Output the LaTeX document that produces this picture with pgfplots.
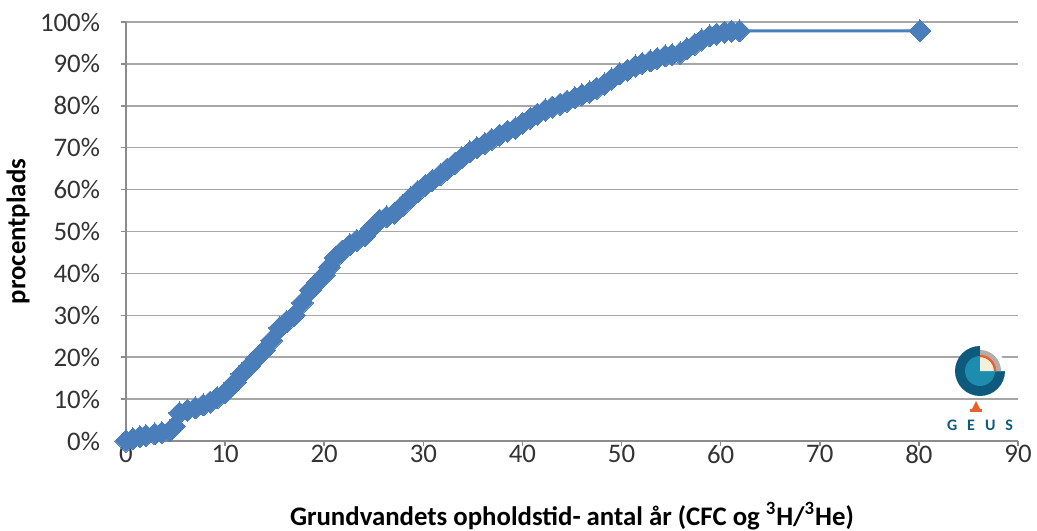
\documentclass[border=0pt]{standalone}
\usepackage{fontspec}
\setmainfont{Carlito}
\usepackage{pgfplots}
\pgfplotsset{compat=1.18}
\definecolor{serie}{HTML}{4A7EBB}
\definecolor{gitter}{HTML}{A6A6A6}
\definecolor{aksel}{HTML}{8C8C8C}
\definecolor{geusblaa}{HTML}{0E5A7C}
\definecolor{geusteal}{HTML}{1C8DAE}
\definecolor{geusgraa}{HTML}{B4ACA8}
\definecolor{geusorange}{HTML}{E8602C}
\definecolor{geuscreme}{HTML}{F4EFD8}
\begin{document}
\begin{tikzpicture}[x=0.5pt,y=0.5pt]
\useasboundingbox (0,0) rectangle (1037,530);
\begin{axis}[
  at={(63pt,44.5pt)}, anchor=south west,
  scale only axis, width=446pt, height=209.5pt,
  xmin=0, xmax=90, ymin=0, ymax=100,
  xtick={0,10,...,90}, ytick={0,10,...,100},
  axis x line=bottom, axis y line=left,
  axis line style={-, aksel, line width=0.8pt},
  tick align=outside, major tick length=2.5pt,
  tick style={aksel, line width=0.8pt},
  ymajorgrids, grid style={gitter, line width=0.8pt},
  /pgf/number format/assume math mode=true,
  yticklabel={\pgfmathprintnumber{\tick}\%},
  ticklabel style={font=\fontsize{13.4}{15}\selectfont, text=black!80},
  yticklabel style={xshift=-7pt},
  xticklabel style={yshift=4pt},
  xlabel={\bfseries Grundvandets opholdstid- antal år (CFC og \textsuperscript{3}H/\textsuperscript{3}He)},
  ylabel={\bfseries procentplads},
  label style={font=\fontsize{13.4}{15}\selectfont},
  xlabel style={at={(axis description cs:0.5,0)}, anchor=base, yshift=-42pt},
  ylabel style={at={(axis description cs:0,0.5)}, anchor=center, yshift=54pt},
  clip=false,
]
\addplot[serie, line width=1.5pt, mark=square*, mark size=3.9pt,
  mark options={rotate=45, fill=serie, draw=serie, line width=0pt}]
coordinates {
(0,0) (0.7,0.5) (1.4,1.0) (2.0,1.3) (2.9,1.7) (3.6,2.0) (4.4,2.4)
(4.9,3.5) (5.4,6.7) (6.2,7.3) (7.0,7.9) (7.8,8.6) (8.5,9.3) (9.2,10.3)
(10.0,11.5) (10.5,12.7) (11.0,14.0) (11.7,16.0) (12.5,18.0) (13.2,19.8)
(14.0,21.7) (14.7,24.0) (15.5,27.0) (16.2,28.5) (17.0,30.0) (17.8,33.0)
(18.6,36.0) (19.3,37.8) (20.0,39.6) (20.5,41.5) (21.1,43.7) (21.8,45.3)
(22.6,46.8) (23.3,47.9) (24.1,49.0) (24.8,50.8) (25.6,52.7) (26.3,53.5)
(27.1,54.4) (27.9,56.2) (28.7,58.0) (29.4,59.5) (30.2,61.0) (30.9,62.2)
(31.7,63.5) (32.4,64.9) (33.2,66.3) (33.9,67.6) (34.7,69.0) (35.4,70.0)
(36.2,71.0) (36.9,72.0) (37.7,73.0) (38.5,73.9) (39.3,74.7) (40.0,75.8)
(40.8,77.0) (41.5,78.0) (42.3,79.0) (43.0,79.7) (43.8,80.4) (44.5,81.1)
(45.3,81.9) (46.0,82.6) (46.8,83.3) (47.5,84.2) (48.3,85.2) (49.0,86.4)
(49.8,87.6) (50.6,88.5) (51.4,89.5) (52.1,90.1) (52.9,90.7) (53.6,91.3)
(54.4,91.9) (55.1,92.2) (55.9,92.6) (56.6,93.6) (57.4,94.7) (58.1,95.7)
(58.9,96.7) (59.6,97.1) (60.4,97.6) (61.1,97.8) (61.9,97.9) (80.1,97.9)
};
\end{axis}
% GEUS logo
\begin{scope}[shift={(980,159)}]
  \fill[geusblaa] (0,0) circle (25);
  \fill[white] (0,0) -- (0,26) arc (90:0:26) -- cycle;
  \fill[geusgraa] (0,0) -- (0,21) arc (90:0:21) -- cycle;
  \fill[geusteal] (0,0) circle (15);
  \fill[geuscreme] (0,0) -- (0,15) arc (90:0:15) -- cycle;
  \draw[geusorange, line width=1.2pt] (0,15) arc (90:0:15);
\end{scope}
\fill[geusorange] (976,129) -- (972,121) -- (980,121) -- cycle;
\fill[geusorange] (970,121) rectangle (982,118);
\node[geusblaa, font=\bfseries\fontsize{8}{9}\selectfont] at (980,105) {G\hspace{5pt}E\hspace{5pt}U\hspace{5pt}S};
\end{tikzpicture}
\end{document}
